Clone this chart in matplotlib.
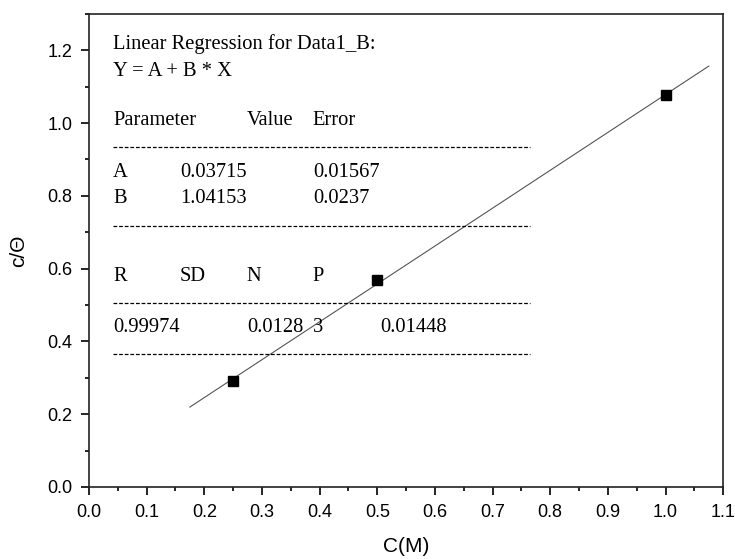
import matplotlib
matplotlib.use('Agg')
import matplotlib.pyplot as plt
from matplotlib.ticker import MultipleLocator
import numpy as np

# measured points
conc = [0.25, 0.5, 1.0]
ratio = [0.292, 0.570, 1.077]

# fit result shown in the box
fit_A = 0.03715
fit_B = 1.04153
fit_x = [0.175, 1.075]

header = ["Linear Regression for Data1_B:", "Y = A + B * X"]
param_cols = ["Parameter", "Value", "Error"]
param_rows = [["A", "0.03715", "0.01567"],
              ["B", "1.04153", "0.0237"]]
stat_cols = ["R", "SD", "N", "P"]
stat_vals = ["0.99974", "0.0128", "3", "0.01448"]

plt.rcParams['font.family'] = ['Liberation Sans', 'DejaVu Sans']

fig = plt.figure(figsize=(7.35, 5.59), dpi=100)
ax = fig.add_axes([0.121, 0.129, 0.863, 0.846])

fx = np.array(fit_x)
ax.plot(fx, fit_A + fit_B * fx, color='#555555', lw=0.8)
ax.plot(conc, ratio, 's', color='black', ms=6.5)

ax.set_xlim(0, 1.1)
ax.set_ylim(0, 1.3)
ax.xaxis.set_major_locator(MultipleLocator(0.1))
ax.xaxis.set_minor_locator(MultipleLocator(0.05))
ax.yaxis.set_minor_locator(MultipleLocator(0.1))
ax.set_yticks(np.arange(0, 1.21, 0.2))
ax.tick_params(which='major', direction='out', length=6, width=1.2, labelsize=13, pad=6)
ax.tick_params(which='minor', direction='out', length=3, width=1.2)
for s in ax.spines.values():
    s.set_linewidth(1.2)
    s.set_color('#222222')

ax.set_xlabel('C(M)', fontsize=15, labelpad=12)
ax.set_ylabel('c/Θ', fontsize=15, labelpad=14)

# regression report box
serif = dict(family='Liberation Serif', fontsize=14.8, va='center', transform=ax.transAxes)
ax.text(0.038, 0.937, header[0], **serif)
ax.text(0.038, 0.879, header[1], **serif)

col_x = [0.038, 0.1435, 0.249, 0.353, 0.459]
ax.text(col_x[0], 0.774, param_cols[0], **serif)
ax.text(col_x[2], 0.774, param_cols[1], **serif)
ax.text(col_x[3], 0.774, param_cols[2], **serif)
for yy, row in zip([0.664, 0.609], param_rows):
    ax.text(col_x[0], yy, row[0], **serif)
    ax.text(col_x[1], yy, row[1], **serif)
    ax.text(col_x[3], yy, row[2], **serif)

for i, c in enumerate(stat_cols):
    ax.text(col_x[i], 0.444, c, **serif)
for xx, v in zip([col_x[0], col_x[2], col_x[3], col_x[4]], stat_vals):
    ax.text(xx, 0.338, v, **serif)

for yy in [0.719, 0.552, 0.389, 0.281]:
    ax.plot([0.038, 0.696], [yy, yy], transform=ax.transAxes, color='black',
            lw=0.9, dashes=(3, 1.5))

fig.savefig('out.png', dpi=100)
